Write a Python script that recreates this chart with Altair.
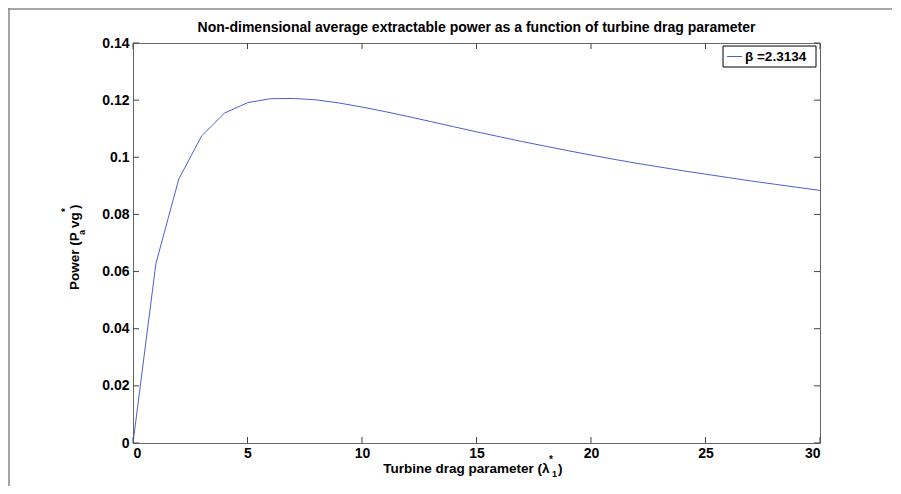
import altair as alt
import pandas as pd

drag = list(range(0, 31))
power = [0.0, 0.0628, 0.0924, 0.1075, 0.1155, 0.1191, 0.1205, 0.1206, 0.1201, 0.1190,
         0.1176, 0.1160, 0.1143, 0.1125, 0.1107, 0.1089, 0.1072, 0.1055, 0.1039, 0.1023,
         0.1008, 0.0993, 0.0979, 0.0966, 0.0953, 0.0941, 0.0929, 0.0917, 0.0906, 0.0895,
         0.0884]
x_ticks = [0, 5, 10, 15, 20, 25, 30]
y_ticks = [0, 0.02, 0.04, 0.06, 0.08, 0.1, 0.12, 0.14]
title_text = "Non-dimensional average extractable power as a function of turbine drag parameter"
legend_label = "β =2.3134"

W, H = 687, 400
PAD_L, PAD_T, PAD_R, PAD_B = 125, 35, 72, 43
FONT = "Liberation Sans"
LINE_COLOR = "#4a5fd0"
TICK_COLOR = "#444444"

df = pd.DataFrame({"x": drag, "y": power})
xt = pd.DataFrame({"v": x_ticks})
yt = pd.DataFrame({"v": y_ticks})
one = pd.DataFrame({"a": [0]})

xscale = alt.Scale(domain=[0, 30], nice=False, zero=False)
yscale = alt.Scale(domain=[0, 0.14], nice=False, zero=False)

line = alt.Chart(df).mark_line(color=LINE_COLOR, strokeWidth=1, clip=True).encode(
    x=alt.X("x:Q", scale=xscale,
            axis=alt.Axis(values=x_ticks, ticks=False, domain=False, grid=False, title=None,
                          labelFont=FONT, labelFontSize=14, labelFontWeight="bold",
                          labelColor="black", labelPadding=3)),
    y=alt.Y("y:Q", scale=yscale,
            axis=alt.Axis(values=y_ticks, ticks=False, domain=False, grid=False, title=None,
                          format="~g", labelFont=FONT, labelFontSize=14, labelFontWeight="bold",
                          labelColor="black", labelPadding=4)),
)

tick_kw = dict(color=TICK_COLOR, strokeWidth=1)
xt_bottom = alt.Chart(xt).mark_rule(**tick_kw).encode(
    x=alt.X("v:Q", scale=xscale), y=alt.value(H), y2=alt.value(H - 6))
xt_top = alt.Chart(xt).mark_rule(**tick_kw).encode(
    x=alt.X("v:Q", scale=xscale), y=alt.value(0), y2=alt.value(6))
yt_left = alt.Chart(yt).mark_rule(**tick_kw).encode(
    y=alt.Y("v:Q", scale=yscale), x=alt.value(0), x2=alt.value(6))
yt_right = alt.Chart(yt).mark_rule(**tick_kw).encode(
    y=alt.Y("v:Q", scale=yscale), x=alt.value(W), x2=alt.value(W - 6))

# legend box
leg_box = alt.Chart(one).mark_rect(fill="white", stroke="black", strokeWidth=1).encode(
    x=alt.value(590), x2=alt.value(683), y=alt.value(3), y2=alt.value(24))
leg_line = alt.Chart(one).mark_rule(color=LINE_COLOR, strokeWidth=1).encode(
    x=alt.value(594), x2=alt.value(609), y=alt.value(13.5))
leg_text = alt.Chart(one).mark_text(align="left", baseline="middle", font=FONT,
                                    fontSize=13.5, fontWeight="bold", color="black").encode(
    x=alt.value(612), y=alt.value(14), text=alt.value(legend_label))

def txt(s, x, y, size=13, angle=0, align="left"):
    kw = dict(align=align, baseline="middle", font=FONT, fontSize=size,
              fontWeight="bold", color="black")
    if angle:
        kw["angle"] = angle
    return alt.Chart(one).mark_text(**kw).encode(
        x=alt.value(x), y=alt.value(y), text=alt.value(s))

# title
title = txt(title_text, W / 2, -15, size=14, align="center")

# x axis title pieces
xtitle = [
    txt("Turbine drag parameter (", 409, 426, size=13.5, align="right"),
    txt("λ", 409, 426, size=13.5),
    txt("*", 416, 417, size=10),
    txt("1", 419, 431, size=9),
    txt(")", 425, 426, size=13.5),
]

# y axis title pieces (rotated)
ytitle = [
    txt("Power (P", -58, 247, size=13.5, angle=270),
    txt("a", -51, 192, size=9, angle=270),
    txt("vg", -58, 185, size=13.5, angle=270),
    txt("*", -67, 169, size=10, angle=270),
    txt(")", -58, 166, size=13.5, angle=270),
]

# figure border (top / left)
border_top = alt.Chart(one).mark_rule(color="#888888", strokeWidth=1.5).encode(
    x=alt.value(-PAD_L), x2=alt.value(W + PAD_R), y=alt.value(-PAD_T + 1), y2=alt.value(-PAD_T + 1))
border_left = alt.Chart(one).mark_rule(color="#888888", strokeWidth=1.5).encode(
    x=alt.value(-PAD_L + 1), x2=alt.value(-PAD_L + 1), y=alt.value(-PAD_T), y2=alt.value(H + PAD_B))

chart = alt.layer(
    border_top, border_left,
    line, xt_bottom, xt_top, yt_left, yt_right,
    leg_box, leg_line, leg_text, title, *xtitle, *ytitle,
).properties(
    width=W, height=H,
    autosize=alt.AutoSizeParams(type="none"),
    padding={"left": PAD_L, "top": PAD_T, "right": PAD_R, "bottom": PAD_B},
).configure_view(stroke="#666666", strokeWidth=1)

chart.save("out.html", embed_options={"renderer": "svg", "actions": False})
